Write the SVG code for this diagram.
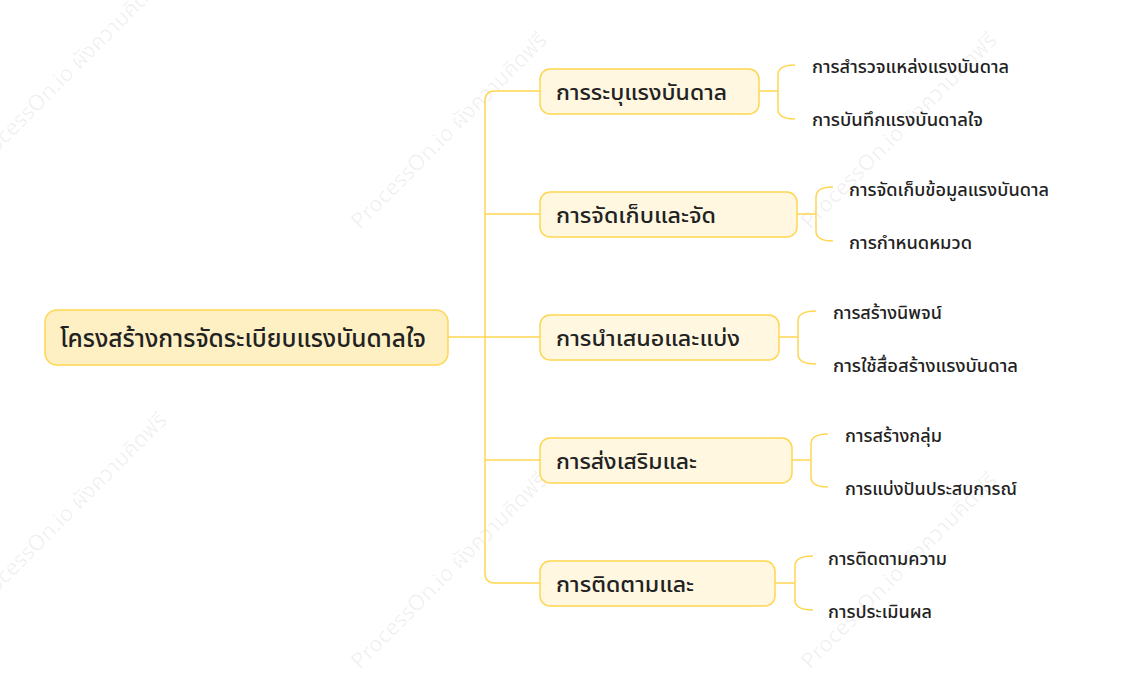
<svg xmlns="http://www.w3.org/2000/svg" width="1128" height="690" viewBox="0 0 1128 690">
<style>
.root{fill:#FFF0C4;stroke:#FFD650;stroke-width:1.5}
.n1{fill:#FFF7E0;stroke:#FFD650;stroke-width:1.5}
.t0{font-family:"Noto Sans Thai","Noto Sans","DejaVu Sans",sans-serif;font-size:24px;fill:#222;font-weight:500}
.t1{font-family:"Noto Sans Thai","Noto Sans","DejaVu Sans",sans-serif;font-size:22px;fill:#222;font-weight:500}
.t2{font-family:"Noto Sans Thai","Noto Sans","DejaVu Sans",sans-serif;font-size:17px;fill:#222;font-weight:500}
.c{fill:none;stroke:#FFD650;stroke-width:1.5}
.wm{font-family:"Noto Sans Thai","Noto Sans","DejaVu Sans",sans-serif;font-size:22px;fill:#000;fill-opacity:0.06}
</style>
<rect width="1128" height="690" fill="#fff"/>
<g id="watermark">
<text class="wm" transform="translate(-20,170) rotate(-45)">ProcessOn.io ผังความคิดฟรี</text>
<text class="wm" transform="translate(360,230) rotate(-45)">ProcessOn.io ผังความคิดฟรี</text>
<text class="wm" transform="translate(810,230) rotate(-45)">ProcessOn.io ผังความคิดฟรี</text>
<text class="wm" transform="translate(-20,610) rotate(-45)">ProcessOn.io ผังความคิดฟรี</text>
<text class="wm" transform="translate(360,670) rotate(-45)">ProcessOn.io ผังความคิดฟรี</text>
<text class="wm" transform="translate(810,670) rotate(-45)">ProcessOn.io ผังความคิดฟรี</text>
</g>
<g id="connectors">
<path class="c" d="M448,337 H485"/>
<path class="c" d="M540,91 H495 Q485,91 485,101 V573 Q485,583 495,583 H540"/>
<path class="c" d="M485,214 H540"/>
<path class="c" d="M485,337 H540"/>
<path class="c" d="M485,460 H540"/>
<path class="c" d="M759,91 H778"/>
<path class="c" d="M795,65 Q778,65 778,75 V109 Q778,119 795,119"/>
<path class="c" d="M797,214 H816"/>
<path class="c" d="M833,187 Q816,187 816,197 V231 Q816,241 833,241"/>
<path class="c" d="M779,337 H798"/>
<path class="c" d="M816,311 Q798,311 798,321 V354 Q798,364 816,364"/>
<path class="c" d="M792,460 H811"/>
<path class="c" d="M828,434 Q811,434 811,444 V477 Q811,487 828,487"/>
<path class="c" d="M775,583 H795"/>
<path class="c" d="M813,556 Q795,556 795,566 V600 Q795,610 813,610"/>
</g>
<g id="root">
<rect class="root" x="45" y="310" width="403" height="55" rx="12"/>
<text class="t0" x="60" y="347" textLength="366" lengthAdjust="spacingAndGlyphs">โครงสร้างการจัดระเบียบแรงบันดาลใจ</text>
</g>
<g id="n1">
<rect class="n1" x="540" y="69" width="219" height="45" rx="10"/>
<text class="t1" x="556" y="100" textLength="171" lengthAdjust="spacingAndGlyphs">การระบุแรงบันดาล</text>
</g>
<g id="n2">
<rect class="n1" x="540" y="192" width="257" height="45" rx="10"/>
<text class="t1" x="556" y="223" textLength="160" lengthAdjust="spacingAndGlyphs">การจัดเก็บและจัด</text>
</g>
<g id="n3">
<rect class="n1" x="540" y="315" width="239" height="45" rx="10"/>
<text class="t1" x="556" y="346" textLength="184" lengthAdjust="spacingAndGlyphs">การนำเสนอและแบ่ง</text>
</g>
<g id="n4">
<rect class="n1" x="540" y="438" width="252" height="45" rx="10"/>
<text class="t1" x="556" y="469" textLength="141" lengthAdjust="spacingAndGlyphs">การส่งเสริมและ</text>
</g>
<g id="n5">
<rect class="n1" x="540" y="561" width="235" height="45" rx="10"/>
<text class="t1" x="556" y="592" textLength="138" lengthAdjust="spacingAndGlyphs">การติดตามและ</text>
</g>
<g id="leaf11"><text class="t2" x="812" y="73" textLength="197" lengthAdjust="spacingAndGlyphs">การสำรวจแหล่งแรงบันดาล</text></g>
<g id="leaf12"><text class="t2" x="812" y="126" textLength="171" lengthAdjust="spacingAndGlyphs">การบันทึกแรงบันดาลใจ</text></g>
<g id="leaf21"><text class="t2" x="849" y="196" textLength="200" lengthAdjust="spacingAndGlyphs">การจัดเก็บข้อมูลแรงบันดาล</text></g>
<g id="leaf22"><text class="t2" x="849" y="249" textLength="123" lengthAdjust="spacingAndGlyphs">การกำหนดหมวด</text></g>
<g id="leaf31"><text class="t2" x="833" y="319" textLength="109" lengthAdjust="spacingAndGlyphs">การสร้างนิพจน์</text></g>
<g id="leaf32"><text class="t2" x="833" y="372" textLength="185" lengthAdjust="spacingAndGlyphs">การใช้สื่อสร้างแรงบันดาล</text></g>
<g id="leaf41"><text class="t2" x="845" y="442" textLength="97" lengthAdjust="spacingAndGlyphs">การสร้างกลุ่ม</text></g>
<g id="leaf42"><text class="t2" x="845" y="495" textLength="172" lengthAdjust="spacingAndGlyphs">การแบ่งปันประสบการณ์</text></g>
<g id="leaf51"><text class="t2" x="828" y="565" textLength="119" lengthAdjust="spacingAndGlyphs">การติดตามความ</text></g>
<g id="leaf52"><text class="t2" x="828" y="618" textLength="104" lengthAdjust="spacingAndGlyphs">การประเมินผล</text></g>
</svg>
